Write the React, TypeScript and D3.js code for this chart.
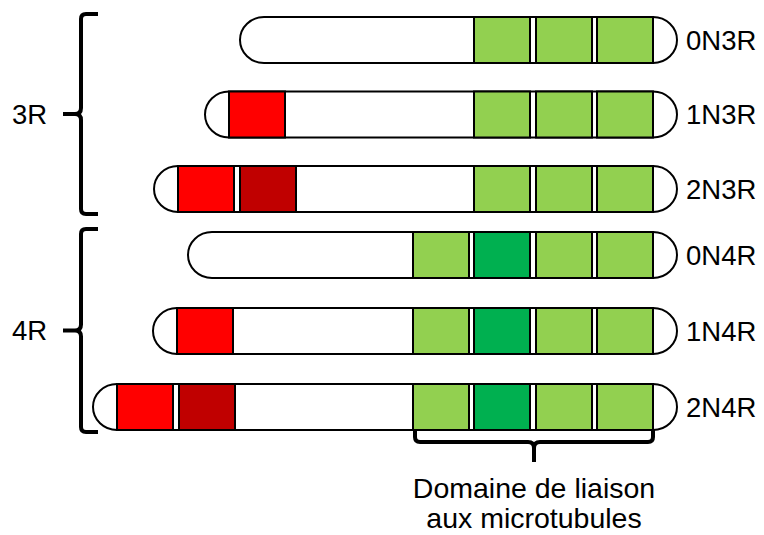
import React from 'react';
import * as d3 from 'd3';

// isoforms, top to bottom
const isoforms = ['0N3R', '1N3R', '2N3R', '0N4R', '1N4R', '2N4R'];
const groups = ['3R', '4R'];
const groupOf = ['3R', '3R', '3R', '4R', '4R', '4R'];

// positions along the protein (arbitrary units, C-terminus aligned)
const bodyStart = [147, 112, 61, 95, 60, 0];
const n1Start = [null, 112, 61, null, 60, 0];
const n2Start = [null, null, 123, null, null, 62];
const repeats3R = [357, 419, 480];
const repeats4R = [296, 357, 419, 480];
const repeatKind4R = ['light', 'dark', 'light', 'light'];
const bodyEnd = 536;
const domainWidth = 56;

const bindingLabel = ['Domaine de liaison', 'aux microtubules'];

const colors = {
  n1: '#ff0000',
  n2: '#c00000',
  light: '#92d050',
  dark: '#00b050',
};

const W = 764;
const H = 535;
const barH = 46;
const capR = 24;
const font = '"Liberation Sans", Arial, sans-serif';

export default function App() {
  const x = d3.scaleLinear().domain([0, bodyEnd]).range([117, 653]);

  // one point scale per group so the two groups can sit a bit closer
  const yGroup: Record<string, d3.ScalePoint<string>> = {
    '3R': d3.scalePoint<string>().domain(isoforms.slice(0, 3)).range([40, 189]),
    '4R': d3.scalePoint<string>().domain(isoforms.slice(3)).range([255, 407]),
  };
  const y = (name: string, i: number) => yGroup[groupOf[i]](name) as number;

  const capsule = (x0: number, x1: number, cy: number) => {
    const t = cy - barH / 2;
    const b = cy + barH / 2;
    return `M${x0},${t}L${x1},${t}A${capR},${barH / 2} 0 0 1 ${x1},${b}L${x0},${b}A${capR},${barH / 2} 0 0 1 ${x0},${t}Z`;
  };

  const labelX = x(bodyEnd) + 33;

  return (
    <svg width={W} height={H} style={{ position: 'absolute', left: 0, top: 0 }}
      fontFamily={font}>
      <rect width={W} height={H} fill="#fff" />
      {isoforms.map((name, i) => {
        const cy = y(name, i);
        const top = cy - barH / 2;
        const boxes: { s: number; c: string }[] = [];
        if (n1Start[i] != null) boxes.push({ s: n1Start[i] as number, c: colors.n1 });
        if (n2Start[i] != null) boxes.push({ s: n2Start[i] as number, c: colors.n2 });
        if (groupOf[i] === '3R') repeats3R.forEach(s => boxes.push({ s, c: colors.light }));
        else repeats4R.forEach((s, k) => boxes.push({ s, c: colors[repeatKind4R[k] as 'light' | 'dark'] }));
        return (
          <g key={name}>
            <path d={capsule(x(bodyStart[i]), x(bodyEnd), cy)} fill="#fff" stroke="#000" strokeWidth={2} />
            {boxes.map((bx, k) => (
              <rect key={k} x={x(bx.s)} y={top} width={x(bx.s + domainWidth) - x(bx.s)} height={barH}
                fill={bx.c} stroke="#000" strokeWidth={2} />
            ))}
            <text x={labelX} y={cy} dy="0.36em" fontSize={27.5} fill="#000">{name}</text>
          </g>
        );
      })}

      {groups.map(g => {
        const names = isoforms.filter((_, i) => groupOf[i] === g);
        const y0 = (yGroup[g](names[0]) as number) - 26;
        const y1 = (yGroup[g](names[names.length - 1]) as number) + 25;
        const ym = (y0 + y1) / 2;
        const bx = 81;
        const d = `M98,${y0}H86Q${bx},${y0} ${bx},${y0 + 5}V${ym - 6}Q${bx},${ym} ${bx - 6},${ym}H63` +
          `M${bx - 6},${ym}Q${bx},${ym} ${bx},${ym + 6}V${y1 - 5}Q${bx},${y1} 86,${y1}H98`;
        return (
          <g key={g}>
            <path d={d} fill="none" stroke="#000" strokeWidth={4} />
            <text x={12} y={ym} dy="0.36em" fontSize={27.5} fill="#000">{g}</text>
          </g>
        );
      })}

      {(() => {
        const x0 = x(repeats4R[0]) + 2;
        const x1 = x(bodyEnd);
        const xm = (x0 + x1) / 2;
        const yTop = (yGroup['4R'](isoforms[5]) as number) + barH / 2;
        const yb = yTop + 12;
        const d = `M${x0},${yTop}V${yb - 5}Q${x0},${yb} ${x0 + 5},${yb}H${xm - 6}Q${xm},${yb} ${xm},${yb + 6}V${yb + 20}` +
          `M${xm},${yb + 6}Q${xm},${yb} ${xm + 6},${yb}H${x1 - 5}Q${x1},${yb} ${x1},${yb - 5}V${yTop}`;
        return (
          <g>
            <path d={d} fill="none" stroke="#000" strokeWidth={4} />
            {bindingLabel.map((t, k) => (
              <text key={k} x={xm} y={498 + k * 30} textAnchor="middle" fontSize={28.5} fill="#000">{t}</text>
            ))}
          </g>
        );
      })()}
    </svg>
  );
}
